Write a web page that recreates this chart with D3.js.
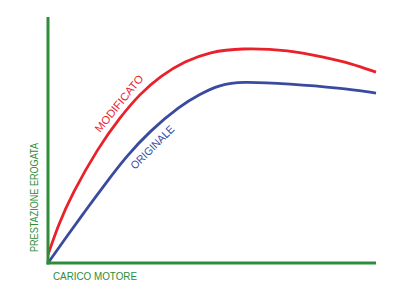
<!DOCTYPE html>
<html>
<head>
<meta charset="utf-8">
<script src="https://cdn.jsdelivr.net/npm/d3@7"></script>
<style>
  html, body { margin: 0; padding: 0; background: #fff; }
  svg { display: block; }
</style>
</head>
<body>
<div id="chart"></div>
<script>
// curve values (load %, performance %)
const modificatoX = [0, 3.1, 7.3, 15.2, 22.0, 28.0, 34.2, 41.8, 49.4, 58.5, 73.8, 83.8, 92.1, 100];
const modificatoY = [3.3, 15.4, 28.0, 46.7, 59.3, 68.7, 76.0, 82.1, 85.8, 87.4, 86.6, 83.7, 81.3, 77.6];
const originaleX = [0, 5.2, 11.3, 17.4, 24.1, 31.1, 40.2, 46.3, 52.4, 58.5, 73.8, 89.0, 100];
const originaleY = [0, 9.8, 21.1, 32.1, 43.7, 53.7, 63.8, 68.7, 72.4, 73.8, 72.8, 71.1, 69.1];

const seriesNames = ['MODIFICATO', 'ORIGINALE'];
const xTitle = 'CARICO MOTORE';
const yTitle = 'PRESTAZIONE EROGATA';

const width = 400, height = 300;
const margin = { left: 48, right: 24, top: 17, bottom: 37 };
const green = '#2e8d3b';
const red = '#e8212b';
const blue = '#3a4b9f';
const font = '"Liberation Sans Narrow", "Arial Narrow", "Liberation Sans", sans-serif';

const svg = d3.select('#chart').append('svg')
  .attr('width', width)
  .attr('height', height);

const x = d3.scaleLinear().domain([0, 100]).range([margin.left, width - margin.right]);
const y = d3.scaleLinear().domain([0, 100]).range([height - margin.bottom, margin.top]);

// basis smoothing irons out small reading errors in the points
const line = d3.line()
  .x(d => x(d[0]))
  .y(d => y(d[1]))
  .curve(d3.curveBasis);

const series = [
  { name: seriesNames[0], color: red, pts: d3.zip(modificatoX, modificatoY) },
  { name: seriesNames[1], color: blue, pts: d3.zip(originaleX, originaleY) }
];

// curves
svg.append('g').selectAll('path')
  .data(series)
  .enter()
  .append('path')
  .attr('d', d => line(d.pts))
  .attr('fill', 'none')
  .attr('stroke', d => d.color)
  .attr('stroke-width', 2.8);

// axes (plain lines, no ticks)
const axisG = svg.append('g');
axisG.append('line')
  .attr('x1', x(0)).attr('x2', x(0))
  .attr('y1', y(100)).attr('y2', y(0) + 1.5)
  .attr('stroke', green).attr('stroke-width', 3);
axisG.append('line')
  .attr('x1', x(0) - 1.5).attr('x2', x(100))
  .attr('y1', y(0)).attr('y2', y(0))
  .attr('stroke', green).attr('stroke-width', 3);

// axis titles
svg.append('text')
  .text(xTitle)
  .attr('x', 53)
  .attr('y', 280)
  .attr('font-family', font)
  .attr('font-size', '11px')
  .attr('textLength', 84)
  .attr('lengthAdjust', 'spacingAndGlyphs')
  .attr('fill', green);

svg.append('text')
  .text(yTitle)
  .attr('transform', 'translate(37.5,252) rotate(-90)')
  .attr('font-family', font)
  .attr('font-size', '11px')
  .attr('textLength', 109)
  .attr('lengthAdjust', 'spacingAndGlyphs')
  .attr('fill', green);

// curve labels
svg.append('text')
  .text(seriesNames[0])
  .attr('transform', 'translate(100,133) rotate(-51)')
  .attr('font-family', font)
  .attr('font-size', '11px')
  .attr('textLength', 70)
  .attr('lengthAdjust', 'spacingAndGlyphs')
  .attr('fill', red);

svg.append('text')
  .text(seriesNames[1])
  .attr('transform', 'translate(135,170) rotate(-45)')
  .attr('font-family', font)
  .attr('font-size', '11px')
  .attr('textLength', 57)
  .attr('lengthAdjust', 'spacingAndGlyphs')
  .attr('fill', blue);
</script>
</body>
</html>
